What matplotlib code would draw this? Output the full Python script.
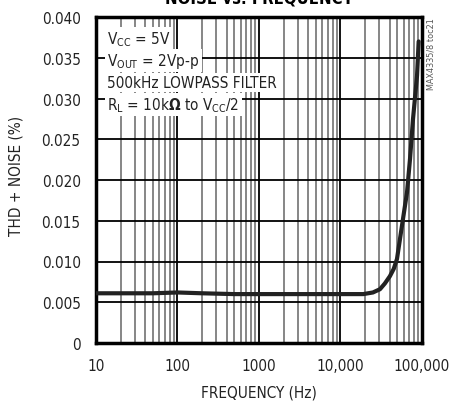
import matplotlib
matplotlib.use("Agg")
import matplotlib.pyplot as plt
from matplotlib.ticker import FixedLocator, LogLocator, NullFormatter

plt.rcParams['font.family'] = ['DejaVu Sans']
plt.rcParams['font.stretch'] = 'condensed'

# THD+N vs frequency
freq = [10, 20, 50, 100, 200, 500, 1000, 2000, 5000, 10000, 15000, 19000,
        25000, 30500, 35000, 40400, 45000, 49300, 56800, 65500, 71300, 77600, 86900, 91000]
thd = [0.0061, 0.0061, 0.0061, 0.0062, 0.0061, 0.0060, 0.0060, 0.0060, 0.0060, 0.0060, 0.0060, 0.0060,
       0.0062, 0.0066, 0.0073, 0.0082, 0.0091, 0.0103, 0.0144, 0.0185, 0.0226, 0.0275, 0.0328, 0.0370]

xticks = [10, 100, 1000, 10000, 100000]
xlabels = ["10", "100", "1000", "10,000", "100,000"]
yticks = [0, 0.005, 0.010, 0.015, 0.020, 0.025, 0.030, 0.035, 0.040]
ylabels = ["0", "0.005", "0.010", "0.015", "0.020", "0.025", "0.030", "0.035", "0.040"]

notes = [r"V$_{\mathregular{CC}}$ = 5V",
         r"V$_{\mathregular{OUT}}$ = 2Vp-p",
         "500kHz LOWPASS FILTER",
         r"R$_{\mathregular{L}}$ = 10k$\mathbf{\Omega}$ to V$_{\mathregular{CC}}$/2"]

fs = 11

fig = plt.figure(figsize=(4.6, 4.02), dpi=100)
ax = fig.add_axes([96/460, 1-344/402, 326/460, 326/402])

ax.plot(freq, thd, color="#222222", lw=3, solid_capstyle="round", zorder=3)

ax.set_xscale("log")
ax.set_xlim(10, 100000)
ax.set_ylim(0, 0.040)
ax.xaxis.set_major_locator(FixedLocator(xticks))
ax.set_xticklabels(xlabels)
ax.xaxis.set_minor_locator(LogLocator(base=10, subs=range(2, 10)))
ax.xaxis.set_minor_formatter(NullFormatter())
ax.set_yticks(yticks)
ax.set_yticklabels(ylabels)
ax.tick_params(which="both", length=0, labelsize=fs, pad=11, colors="#222222")

ax.grid(True, which="major", color="black", lw=1.3)
ax.grid(True, which="minor", axis="x", color="#666666", lw=1.1)
for s in ax.spines.values():
    s.set_linewidth(2.5)
ax.set_axisbelow(True)

ax.set_xlabel("FREQUENCY (Hz)", fontsize=fs, labelpad=8, color="#222222")
ax.set_ylabel("THD + NOISE (%)", fontsize=fs, color="#222222")
ax.yaxis.set_label_coords(-0.222, 0.515)

for i, t in enumerate(notes):
    ax.text(0.035, 0.935 - i * 0.068, t, transform=ax.transAxes, fontsize=fs,
            va="center", ha="left", color="#222222", zorder=4,
            bbox=dict(facecolor="white", edgecolor="none", pad=1.5))

fig.text(431/460, 1-18/402, "MAX4335/8 toc21", rotation=90, fontsize=6.5,
         color="#555555", ha="center", va="top")
fig.text(259/460, 1-4/402, "NOISE vs. FREQUENCY", fontsize=12,
         fontweight="bold", ha="center", va="baseline")

fig.savefig("out.png", dpi=100)
